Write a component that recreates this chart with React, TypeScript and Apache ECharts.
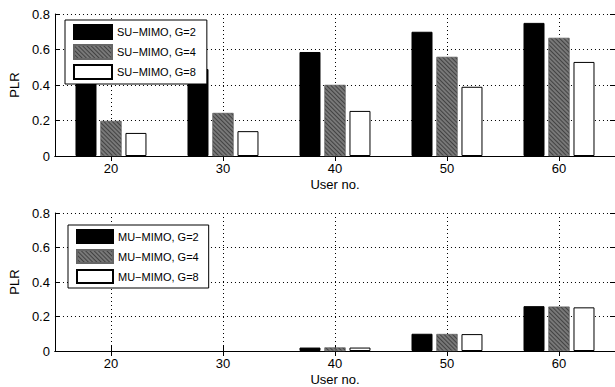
import React, { useEffect, useRef } from "react";
import * as echarts from "echarts";

const categories = ["20", "30", "40", "50", "60"];
const gridTicks = ["15", "20", "25", "30", "35", "40", "45", "50", "55", "60", "65"];
const yTicks = [0, 0.2, 0.4, 0.6, 0.8];

const suNames = ["SU\u2212MIMO, G=2", "SU\u2212MIMO, G=4", "SU\u2212MIMO, G=8"];
const muNames = ["MU\u2212MIMO, G=2", "MU\u2212MIMO, G=4", "MU\u2212MIMO, G=8"];

const suG2 = [0.41, 0.49, 0.586, 0.70, 0.75];
const suG4 = [0.197, 0.242, 0.40, 0.558, 0.665];
const suG8 = [0.13, 0.14, 0.254, 0.39, 0.53];

const muG2 = [0, 0, 0.02, 0.10, 0.26];
const muG4 = [0, 0, 0.02, 0.098, 0.257];
const muG8 = [0, 0, 0.02, 0.098, 0.253];

const FONT = "Liberation Sans";

const styles = [
  { color: "#000", borderColor: "#000", borderWidth: 1 },
  {
    color: "#787878",
    borderColor: "#666",
    borderWidth: 0.5,
    decal: {
      symbol: "rect",
      symbolSize: 1,
      dashArrayX: [[1, 0]],
      dashArrayY: [1, 2],
      rotation: Math.PI / 4,
      color: "rgba(30,30,30,0.6)",
    },
  },
  { color: "#fff", borderColor: "#000", borderWidth: 1 },
];

export default function App() {
  const ref = useRef<HTMLDivElement>(null);
  useEffect(() => {
    if (!ref.current) return;
    const chart = echarts.init(ref.current, undefined, { renderer: "svg" });
    const grids = [
      { left: 53, top: 14, width: 563, height: 142 },
      { left: 53, top: 213, width: 563, height: 143 },
    ];
    const xAxis: any[] = [];
    const yAxis: any[] = [];
    grids.forEach((_, gi) => {
      xAxis.push({
        type: "category",
        gridIndex: gi,
        data: categories,
        position: "bottom",
        name: "User no.",
        nameLocation: "middle",
        nameGap: 22,
        nameTextStyle: { fontFamily: FONT, fontSize: 13, color: "#000" },
        axisLine: { show: true, lineStyle: { color: "#000", width: 1 } },
        axisTick: { show: true, inside: true, alignWithLabel: true, length: 5, lineStyle: { color: "#000" } },
        axisLabel: { fontFamily: FONT, fontSize: 13, color: "#000", margin: 6 },
        splitLine: { show: false },
      });
      xAxis.push({
        type: "category",
        gridIndex: gi,
        data: gridTicks,
        position: "top",
        boundaryGap: false,
        axisLine: { show: true, lineStyle: { color: "#000", width: 1 } },
        axisTick: { show: true, inside: true, length: 5, interval: (i: number) => i % 2 === 1, lineStyle: { color: "#000" } },
        axisLabel: { show: false },
        splitLine: {
          show: true,
          interval: (i: number) => i % 2 === 1 && i < 10,
          lineStyle: { color: "#000", type: [1, 3], width: 1 },
        },
      });
      yAxis.push({
        type: "value",
        gridIndex: gi,
        min: 0,
        max: 0.8,
        interval: 0.2,
        position: "left",
        name: "PLR",
        nameLocation: "middle",
        nameGap: 26,
        nameTextStyle: { fontFamily: FONT, fontSize: 13, color: "#000" },
        axisLine: { show: true, lineStyle: { color: "#000", width: 1 } },
        axisTick: { show: true, inside: true, length: 5, lineStyle: { color: "#000" } },
        axisLabel: {
          fontFamily: FONT,
          fontSize: 13,
          color: "#000",
          margin: 5,
          formatter: (v: number) => {
            const t = yTicks.find((y) => Math.abs(y - v) < 1e-9);
            return t === undefined ? "" : String(t);
          },
        },
        splitLine: { show: true, lineStyle: { color: "#000", type: [1, 3], width: 1 } },
      });
      yAxis.push({
        type: "value",
        gridIndex: gi,
        min: 0,
        max: 0.8,
        interval: 0.2,
        position: "right",
        axisLine: { show: true, lineStyle: { color: "#000", width: 1 } },
        axisTick: { show: true, inside: true, length: 5, lineStyle: { color: "#000" } },
        axisLabel: { show: false },
        splitLine: { show: false },
      });
    });

    const mk = (name: string, data: number[], si: number, gi: number) => ({
      type: "bar",
      name,
      data: data.map((v) => (v === 0 ? null : v)),
      xAxisIndex: gi * 2,
      yAxisIndex: gi * 2,
      barWidth: 21,
      barGap: "19%",
      itemStyle: styles[si],
      emphasis: { disabled: true },
      z: 3,
    });

    const series = [
      mk(suNames[0], suG2, 0, 0),
      mk(suNames[1], suG4, 1, 0),
      mk(suNames[2], suG8, 2, 0),
      mk(muNames[0], muG2, 0, 1),
      mk(muNames[1], muG4, 1, 1),
      mk(muNames[2], muG8, 2, 1),
    ];

    chart.setOption({
      animation: false,
      backgroundColor: "#fff",
      grid: grids,
      xAxis,
      yAxis,
      legend: [
        {
          data: suNames,
          orient: "vertical",
          left: 65,
          top: 20,
          itemWidth: 38,
          itemHeight: 14,
          itemGap: 4,
          padding: [4, 11, 4, 8],
          icon: "rect",
          backgroundColor: "#fff",
          borderColor: "#000",
          borderWidth: 1,
          selectedMode: false,
          textStyle: { fontFamily: FONT, fontSize: 11, color: "#000" },
          z: 10,
        },
        {
          data: muNames,
          orient: "vertical",
          left: 68,
          top: 225,
          itemWidth: 36,
          itemHeight: 13,
          itemGap: 5,
          padding: [4, 10, 4, 8],
          icon: "rect",
          backgroundColor: "#fff",
          borderColor: "#000",
          borderWidth: 1,
          selectedMode: false,
          textStyle: { fontFamily: FONT, fontSize: 11, color: "#000" },
          z: 10,
        },
      ],
      series,
    });
    return () => chart.dispose();
  }, []);
  return (
    <div
      ref={ref}
      style={{ position: "absolute", left: 0, top: 0, width: 615, height: 387 }}
    />
  );
}
